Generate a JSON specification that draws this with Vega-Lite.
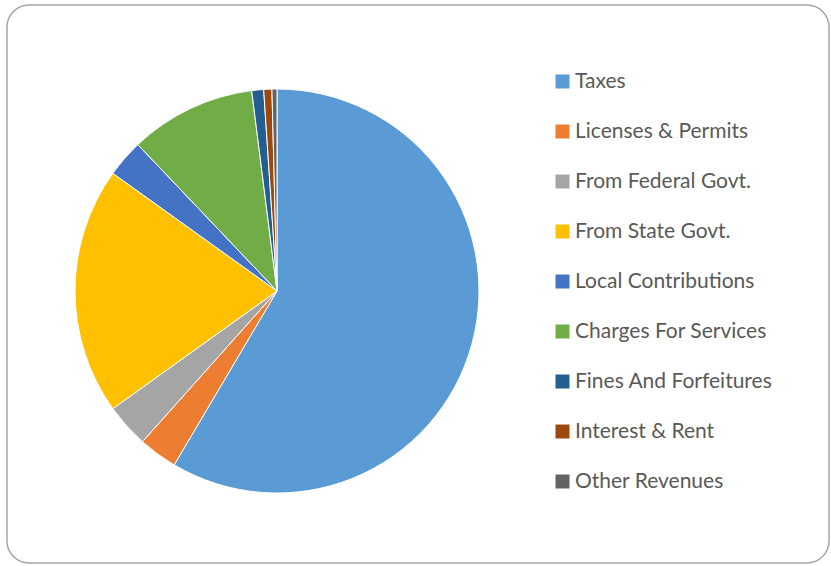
{
  "$schema": "https://vega.github.io/schema/vega-lite/v6.json",
  "width": 822,
  "height": 558,
  "autosize": "none",
  "padding": {"left": 7, "top": 5, "right": 2, "bottom": 3},
  "background": "white",
  "config": {
    "view": {"stroke": null},
    "font": "Lato"
  },
  "layer": [
    {
      "data": {"values": [{"frame": "border"}]},
      "mark": {"type": "rect", "fill": "white", "stroke": "#a6a6a6", "strokeWidth": 1.5, "cornerRadius": 22},
      "encoding": {}
    },
    {
      "data": {
        "values": [
          {"source": "Taxes", "share": 58.5, "idx": 1},
          {"source": "Licenses & Permits", "share": 3.1, "idx": 2},
          {"source": "From Federal Govt.", "share": 3.5, "idx": 3},
          {"source": "From State Govt.", "share": 19.8, "idx": 4},
          {"source": "Local Contributions", "share": 3.0, "idx": 5},
          {"source": "Charges For Services", "share": 10.1, "idx": 6},
          {"source": "Fines And Forfeitures", "share": 0.95, "idx": 7},
          {"source": "Interest & Rent", "share": 0.65, "idx": 8},
          {"source": "Other Revenues", "share": 0.4, "idx": 9}
        ]
      },
      "mark": {"type": "arc", "radius": 202, "x": 270, "y": 286, "stroke": "white", "strokeWidth": 1},
      "encoding": {
        "theta": {"field": "share", "type": "quantitative", "stack": true},
        "order": {"field": "idx", "type": "quantitative"},
        "color": {
          "field": "source",
          "type": "nominal",
          "sort": null,
          "scale": {
            "domain": ["Taxes", "Licenses & Permits", "From Federal Govt.", "From State Govt.", "Local Contributions", "Charges For Services", "Fines And Forfeitures", "Interest & Rent", "Other Revenues"],
            "range": ["#5B9BD5", "#ED7D31", "#A5A5A5", "#FFC000", "#4472C4", "#70AD47", "#255E91", "#9E480E", "#636363"]
          },
          "legend": {
            "title": null,
            "orient": "none",
            "legendX": 545,
            "legendY": 66,
            "symbolType": "square",
            "symbolSize": 196,
            "symbolStrokeWidth": 0,
            "labelFont": "Lato",
            "labelFontSize": 21,
            "labelColor": "#595959",
            "labelOffset": 2,
            "rowPadding": 28,
            "labelLimit": 300
          }
        }
      }
    }
  ]
}
